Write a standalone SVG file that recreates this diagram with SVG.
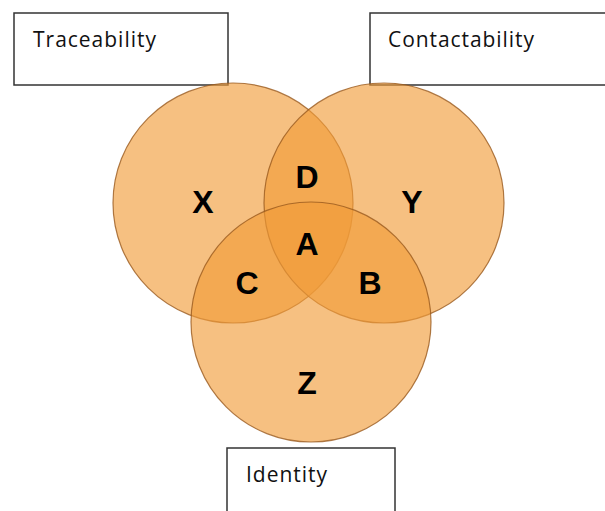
<svg xmlns="http://www.w3.org/2000/svg" width="605" height="511" viewBox="0 0 605 511">
<style>
.box{fill:#fff;stroke:#333;stroke-width:1.5}
.bt{font-family:"Open Sans","Liberation Sans",sans-serif;font-size:21px;fill:#111}
.c{fill:#F19C37;fill-opacity:0.63;stroke:#9A5A1E;stroke-width:1.2;stroke-opacity:0.8}
.l{font-family:"Liberation Sans",Arial,sans-serif;font-weight:bold;font-size:32px;fill:#000;text-anchor:middle}
</style>
<rect width="605" height="511" fill="#fff"/>
<g id="traceability"><rect class="box" x="14" y="13" width="214" height="72"/><text class="bt" x="33" y="47" textLength="123">Traceability</text></g>
<g id="contactability"><rect class="box" x="370" y="13" width="240" height="72"/><text class="bt" x="388" y="47" textLength="146">Contactability</text></g>
<g id="identity"><rect class="box" x="227" y="448" width="168" height="70"/><text class="bt" x="246" y="482" textLength="81">Identity</text></g>
<g id="circles">
<circle class="c" cx="233" cy="203" r="120"/>
<circle class="c" cx="384" cy="203" r="120"/>
<circle class="c" cx="311" cy="322" r="120"/>
</g>
<g id="labels">
<text class="l" x="203" y="213">X</text>
<text class="l" x="307" y="188">D</text>
<text class="l" x="412" y="213">Y</text>
<text class="l" x="307" y="255">A</text>
<text class="l" x="247" y="294">C</text>
<text class="l" x="370" y="294">B</text>
<text class="l" x="307" y="394">Z</text>
</g>
<g id="connectors"/>
</svg>
